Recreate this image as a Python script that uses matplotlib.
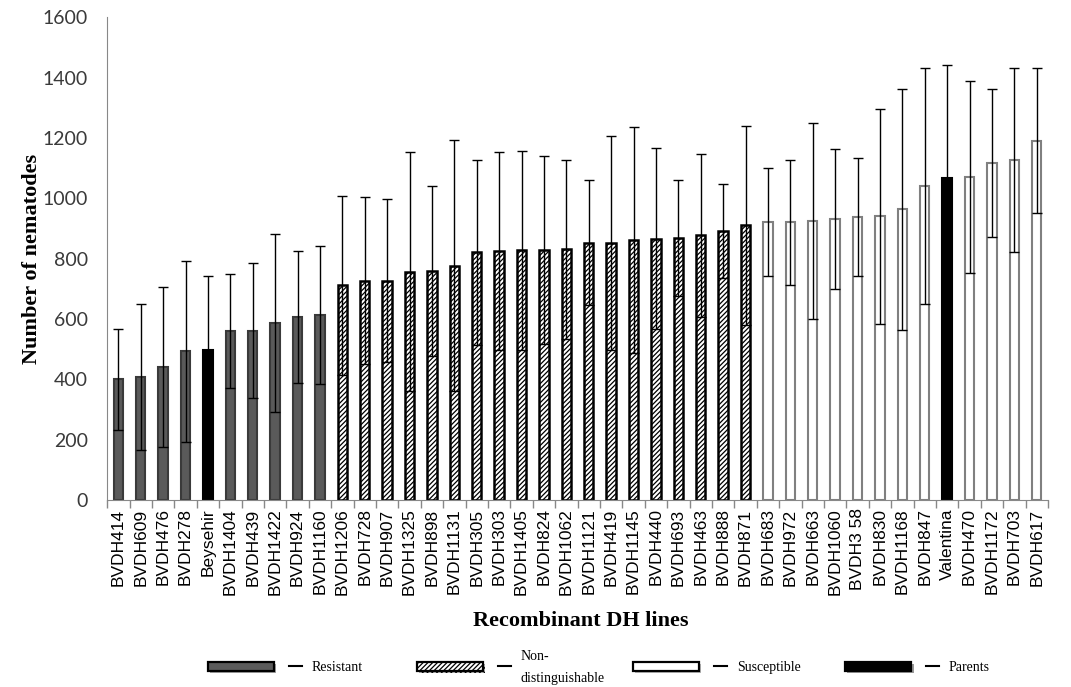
import matplotlib.pyplot as plt
import matplotlib.patheffects as pe
from matplotlib.patches import Rectangle
from matplotlib.lines import Line2D
import numpy as np

# DH lines and parents, sorted by mean nematode count
lines = ['BVDH414', 'BVDH609', 'BVDH476', 'BVDH278', 'Beysehir', 'BVDH1404',
         'BVDH439', 'BVDH1422', 'BVDH924', 'BVDH1160', 'BVDH1206', 'BVDH728',
         'BVDH907', 'BVDH1325', 'BVDH898', 'BVDH1131', 'BVDH305', 'BVDH303',
         'BVDH1405', 'BVDH824', 'BVDH1062', 'BVDH1121', 'BVDH419', 'BVDH1145',
         'BVDH440', 'BVDH693', 'BVDH463', 'BVDH888', 'BVDH871', 'BVDH683',
         'BVDH972', 'BVDH663', 'BVDH1060', 'BVDH3 58', 'BVDH830', 'BVDH1168',
         'BVDH847', 'Valentina', 'BVDH470', 'BVDH1172', 'BVDH703', 'BVDH617']
means = [400, 409, 441, 493, 496, 561, 561, 587, 606, 613, 712, 727,
         727, 757, 760, 777, 821, 824, 828, 828, 831, 853, 853, 863,
         866, 869, 878, 892, 910, 921, 921, 925, 931, 938, 940, 963,
         1041, 1066, 1072, 1118, 1127, 1191]
sds = [167, 242, 264, 300, 248, 189, 224, 294, 219, 229, 297, 276,
       270, 397, 281, 417, 306, 328, 330, 312, 297, 208, 355, 374,
       300, 193, 270, 156, 330, 180, 207, 324, 232, 195, 356, 398,
       392, 374, 318, 245, 306, 239]
# R = resistant, N = non-distinguishable, S = susceptible, P = parent
groups = ['R', 'R', 'R', 'R', 'P', 'R', 'R', 'R', 'R', 'R'] + ['N'] * 19 + \
         ['S'] * 8 + ['P'] + ['S'] * 4

styles = {
    'R': dict(color='#5a5a5a', edgecolor='#3a3a3a', hatch=None, lw=1.5),
    'N': dict(color='white', edgecolor='black', hatch='///////', lw=1.8),
    'S': dict(color='white', edgecolor='#808080', hatch=None, lw=1.5),
    'P': dict(color='black', edgecolor='black', hatch=None, lw=1.5),
}
legend_names = [('R', 'Resistant'), ('N', 'Non-\ndistinguishable'),
                ('S', 'Susceptible'), ('P', 'Parents')]

plt.rcParams['hatch.linewidth'] = 0.9

fig = plt.figure(figsize=(10.71, 6.87), dpi=100)
ax = fig.add_axes([0.1, 0.272, 0.8785, 0.703])

x = np.arange(len(lines))
for i in range(len(lines)):
    st = styles[groups[i]]
    ax.bar(x[i], means[i], width=0.42, color=st['color'], edgecolor=st['edgecolor'],
           hatch=st['hatch'], linewidth=st['lw'], zorder=2)
ax.errorbar(x, means, yerr=sds, fmt='none', ecolor='black', elinewidth=1.0,
            capsize=3.5, capthick=1.0, zorder=3)

# Axes
ax.set_xlim(-0.5, len(lines) - 0.5)
ax.set_ylim(0, 1600)
ax.set_yticks(np.arange(0, 1601, 200))
ax.tick_params(axis='y', length=0, labelsize=14, pad=14, labelcolor='#3a3a3a')
for lab in ax.get_yticklabels():
    lab.set_family('Lato')
ax.set_xticks(x)
ax.set_xticklabels(lines, rotation=90, fontsize=12.5, family='Liberation Sans')
ax.tick_params(axis='x', which='major', length=0, pad=6)
ax.set_xticks(np.arange(-0.5, len(lines), 1), minor=True)
ax.tick_params(axis='x', which='minor', length=6, color='#888888', width=1)

for side in ['top', 'right']:
    ax.spines[side].set_visible(False)
ax.spines['left'].set_color('#888888')
ax.spines['bottom'].set_color('#888888')

ax.set_ylabel('Number of nematodes', family='Liberation Serif', fontweight='bold',
              fontsize=16, labelpad=0)
fig.text(0.542, 0.096, 'Recombinant DH lines', family='Liberation Serif',
         fontweight='bold', fontsize=16, ha='center', va='center')

# Legend drawn along the bottom of the figure
legend_x = [0.194, 0.389, 0.591, 0.789]
for (key, name), lx in zip(legend_names, legend_x):
    st = styles[key]
    box = Rectangle((lx, 0.024), 0.062, 0.012, transform=fig.transFigure,
                    facecolor=st['color'], edgecolor='black', hatch=st['hatch'],
                    linewidth=1.6)
    box.set_path_effects([pe.SimplePatchShadow(offset=(1.5, -1.5), alpha=0.4),
                          pe.Normal()])
    fig.add_artist(box)
    fig.add_artist(Line2D([lx + 0.076, lx + 0.088], [0.030, 0.030],
                          transform=fig.transFigure, color='black', linewidth=1.5))
    fig.text(lx + 0.097, 0.028, name, family='Liberation Serif', fontsize=10,
             ha='left', va='center', linespacing=1.9)

fig.savefig('out.png', dpi=100)
